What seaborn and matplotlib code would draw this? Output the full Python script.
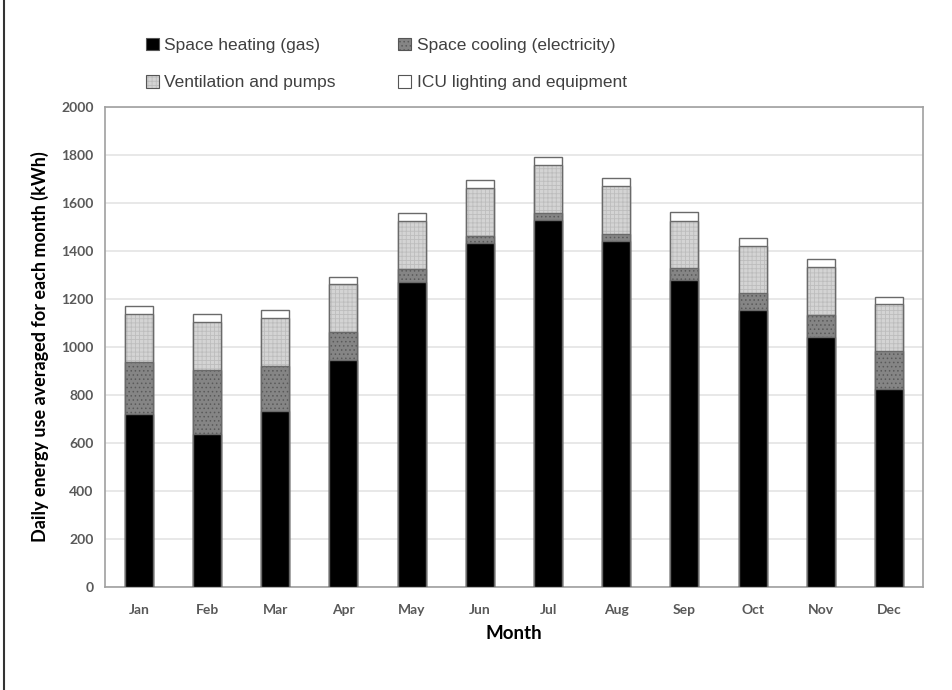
import matplotlib
matplotlib.use("Agg")
import matplotlib.pyplot as plt
import seaborn as sns
import pandas as pd
import numpy as np
from matplotlib.patches import Patch
from matplotlib.lines import Line2D
from matplotlib.colors import to_rgba

months = ["Jan", "Feb", "Mar", "Apr", "May", "Jun", "Jul", "Aug", "Sep", "Oct", "Nov", "Dec"]
heating = [720, 637, 733, 946, 1272, 1433, 1529, 1442, 1279, 1154, 1042, 825]
cooling = [217, 267, 188, 116, 53, 29, 29, 29, 50, 71, 91, 158]
ventilation = [200, 200, 200, 200, 198, 201, 200, 200, 196, 196, 200, 196]
lighting = [34, 33, 33, 30, 35, 33, 34, 33, 38, 33, 34, 29]

series_names = ["Space heating (gas)", "Space cooling (electricity)",
                "Ventilation and pumps", "ICU lighting and equipment"]
series_values = [heating, cooling, ventilation, lighting]
face_colors = ["#000000", "#858585", "#d4d4d4", "#ffffff"]
hatches = [None, "....", "++++", None]
hatch_colors = [None, "#5a5a5a", "#bdbdbd", None]

sns.set_theme(style="white")
plt.rcParams["font.family"] = ["Liberation Sans", "DejaVu Sans"]
plt.rcParams["hatch.linewidth"] = 0.6

fig = plt.figure(figsize=(9.53, 6.90), dpi=100)
ax = fig.add_axes([0.110, 0.1493, 0.8585, 0.6957])

cum = np.cumsum(np.array(series_values), axis=0)
for i in range(3, -1, -1):
    df = pd.DataFrame({"Month": months, "Value": cum[i]})
    sns.barplot(data=df, x="Month", y="Value", order=months, color=face_colors[i],
                width=0.41, edgecolor="#6a6a6a", linewidth=1.0, saturation=1, ax=ax,
                zorder=3)
    n0 = len(ax.patches) - len(months)
    for p in ax.patches[n0:]:
        p.set_facecolor(face_colors[i])
        if hatches[i]:
            p.set_hatch(hatches[i])
            p._hatch_color = to_rgba(hatch_colors[i])

ax.set_ylim(0, 2000)
ax.set_xlim(-0.5, 11.5)
ax.set_yticks(np.arange(0, 2001, 200))
ax.yaxis.grid(True, color="#e4e4e4", linewidth=1.2, zorder=0)
ax.set_axisbelow(True)
for s in ax.spines.values():
    s.set_color("#a0a0a0")
    s.set_linewidth(1.2)
    s.set_visible(True)

tick_font = dict(family=["Lato", "DejaVu Sans"], weight="bold", size=10)
ax.set_xticks(range(12))
ax.set_xticklabels(months, color="#595959", **tick_font)
ax.set_yticklabels([str(v) for v in range(0, 2001, 200)], color="#595959", **tick_font)
ax.tick_params(axis="both", length=0, pad=8)
ax.tick_params(axis="x", pad=12)
ax.set_xticks(np.arange(-0.5, 12, 1), minor=True)
ax.tick_params(axis="x", which="minor", length=4, color="#c8c8c8", width=1)

ax.set_xlabel("Month", family=["Lato", "DejaVu Sans"], weight="bold", size=13.5,
              color="#000000", labelpad=7)
ax.set_ylabel("Daily energy use averaged for each month (kWh)",
              family=["Lato", "DejaVu Sans"], weight="bold", size=13,
              color="#000000", labelpad=9)

handles = []
for i in range(4):
    h = Patch(facecolor=face_colors[i], edgecolor="#555555", hatch=hatches[i], linewidth=0.8)
    if hatches[i]:
        h._hatch_color = to_rgba(hatch_colors[i])
    handles.append(h)
order = [0, 2, 1, 3]  # row-wise fill for 2 columns
leg = fig.legend([handles[k] for k in order], [series_names[k] for k in order],
                 ncol=2, loc="upper left",
                 bbox_to_anchor=(0.137, 0.968), frameon=False,
                 fontsize=12.5, handlelength=0.75, handleheight=0.75,
                 handletextpad=0.3, columnspacing=3.6, labelspacing=1.25)
for t in leg.get_texts():
    t.set_color("#404040")

fig.add_artist(Line2D([0.004, 0.004], [0, 1], color="#333333", linewidth=1.5,
                      transform=fig.transFigure))

fig.savefig("out.png", dpi=100, facecolor="white")
